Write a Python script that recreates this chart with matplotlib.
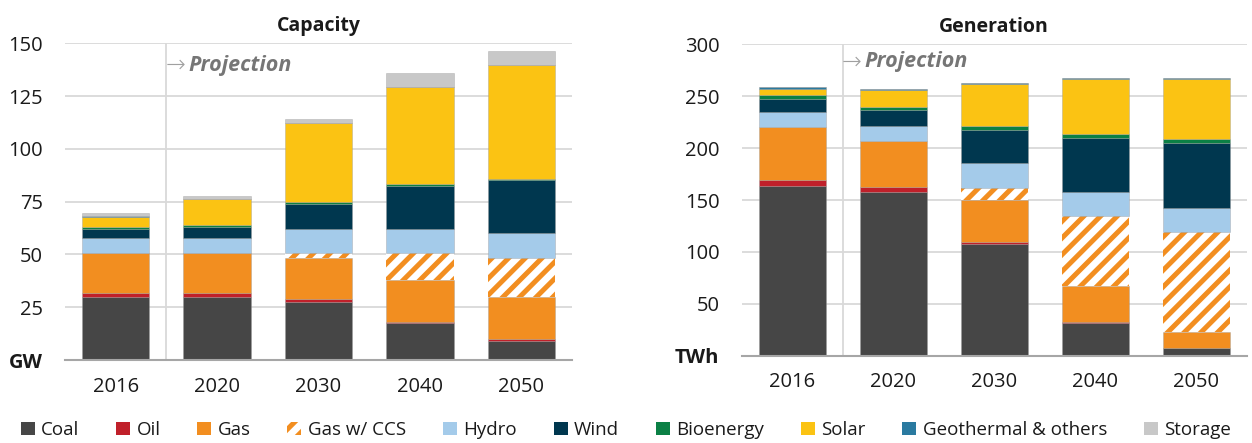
import matplotlib
matplotlib.use("Agg")
import matplotlib.pyplot as plt
from matplotlib.patches import Patch
import numpy as np

plt.rcParams['font.family'] = ['Open Sans', 'DejaVu Sans']
plt.rcParams['hatch.linewidth'] = 3.6

years = ['2016', '2020', '2030', '2040', '2050']
sources = ['Coal', 'Oil', 'Gas', 'Gas w/ CCS', 'Hydro', 'Wind', 'Bioenergy',
           'Solar', 'Geothermal & others', 'Storage']
colors = ['#464646', '#c0202a', '#f28e20', '#f28e20', '#a4cbea', '#00374f',
          '#0b8045', '#fbc313', '#2a7aa0', '#c8c8c8']

# Capacity (GW)
cap_coal = [30.0, 30.0, 27.3, 17.4, 9.1]
cap_oil = [1.6, 1.6, 1.4, 0.8, 1.0]
cap_gas = [19.0, 19.0, 19.8, 19.7, 19.9]
cap_ccs = [0.0, 0.0, 2.0, 12.6, 18.5]
cap_hydro = [7.3, 7.3, 11.4, 11.7, 11.5]
cap_wind = [4.3, 5.3, 12.0, 20.2, 25.3]
cap_bio = [0.8, 0.8, 0.8, 1.0, 0.6]
cap_solar = [4.9, 12.1, 37.4, 45.8, 53.7]
cap_geo = [0.2, 0.2, 0.3, 0.3, 0.3]
cap_storage = [1.4, 1.3, 1.6, 6.5, 6.5]

# Generation (TWh)
gen_coal = [163.3, 157.9, 107.4, 31.5, 7.0]
gen_oil = [6.2, 4.8, 1.9, 0.5, 0.3]
gen_gas = [50.7, 43.7, 40.9, 35.5, 15.2]
gen_ccs = [0.0, 0.0, 11.6, 66.9, 96.4]
gen_hydro = [14.5, 14.8, 23.4, 23.5, 23.6]
gen_wind = [12.9, 15.8, 32.5, 52.1, 62.7]
gen_bio = [3.5, 2.5, 3.2, 3.2, 3.2]
gen_solar = [6.1, 16.1, 41.2, 53.7, 57.8]
gen_geo = [1.3, 1.0, 0.9, 1.0, 1.0]
gen_storage = [0.0, 0.0, 0.0, 0.0, 0.0]

cap_series = [cap_coal, cap_oil, cap_gas, cap_ccs, cap_hydro, cap_wind,
              cap_bio, cap_solar, cap_geo, cap_storage]
gen_series = [gen_coal, gen_oil, gen_gas, gen_ccs, gen_hydro, gen_wind,
              gen_bio, gen_solar, gen_geo, gen_storage]

fig = plt.figure(figsize=(12.52, 4.43), dpi=100)
ax1 = fig.add_axes([65 / 1252, 1 - 360 / 443, 507 / 1252, 316.7 / 443])
ax2 = fig.add_axes([741.7 / 1252, 1 - 355.7 / 443, 505 / 1252, 311.4 / 443])

GRID = '#d9d9d9'
TXT = '#1a1a1a'


def draw(ax, series, ymax, step, unit, title, proj_y):
    x = np.arange(len(years))
    bottom = np.zeros(len(years))
    for name, vals, col in zip(sources, series, colors):
        vals = np.array(vals, dtype=float)
        if name == 'Gas w/ CCS':
            ax.bar(x, vals, 0.665, bottom=bottom, facecolor='white',
                   edgecolor=col, linewidth=0, hatch='//', zorder=3)
        else:
            ax.bar(x, vals, 0.665, bottom=bottom, color=col,
                   edgecolor=(0.6, 0.6, 0.6, 0.5), linewidth=0.5, zorder=3)
        bottom += vals
    ax.set_xlim(-0.5, len(years) - 0.5)
    ax.set_ylim(0, ymax)
    ticks = list(range(0, ymax + 1, step))
    ax.set_yticks(ticks)
    ax.set_yticklabels([unit] + [str(t) for t in ticks[1:]])
    ax.get_yticklabels()[0].set_fontweight('bold')
    ax.set_xticks(x)
    ax.set_xticklabels(years)
    ax.tick_params(axis='both', length=0, labelsize=14.5, colors=TXT)
    ax.tick_params(axis='y', pad=16)
    ax.tick_params(axis='x', pad=12)
    ax.grid(axis='y', color=GRID, linewidth=1.3, zorder=0)
    ax.set_axisbelow(True)
    for s in ['top', 'right', 'left']:
        ax.spines[s].set_visible(False)
    ax.spines['bottom'].set_color('#a6a6a6')
    ax.spines['bottom'].set_linewidth(1.5)
    ax.spines['bottom'].set_zorder(4)
    ax.axvline(0.5, color=GRID, linewidth=1.3, zorder=1)
    ax.set_title(title, fontsize=14, fontweight='bold', color=TXT, pad=9)
    ax.text(0.49, proj_y, '→', fontsize=17, color='#a0a0a0', va='center',
            ha='left', zorder=5, fontfamily='DejaVu Sans', fontweight='light')
    ax.text(0.72, proj_y, 'Projection', fontsize=15.5, color='#767676',
            fontweight='bold', fontstyle='italic', va='center', ha='left',
            zorder=5)


draw(ax1, cap_series, 150, 25, 'GW', 'Capacity', 139.7)
draw(ax2, gen_series, 300, 50, 'TWh', 'Generation', 283.2)

handles = []
for name, col in zip(sources, colors):
    if name == 'Gas w/ CCS':
        handles.append(Patch(facecolor='white', edgecolor=col, linewidth=0,
                             hatch='//', label=name))
    else:
        handles.append(Patch(facecolor=col, edgecolor='none', label=name))

fig.legend(handles=handles, loc='center', bbox_to_anchor=(0.5, 1 - 430 / 443),
           ncol=10, frameon=False, fontsize=13.5, handlelength=0.75,
           handleheight=0.75, handletextpad=0.35, columnspacing=1.95,
           labelcolor=TXT)

fig.savefig('out.png', dpi=100)
